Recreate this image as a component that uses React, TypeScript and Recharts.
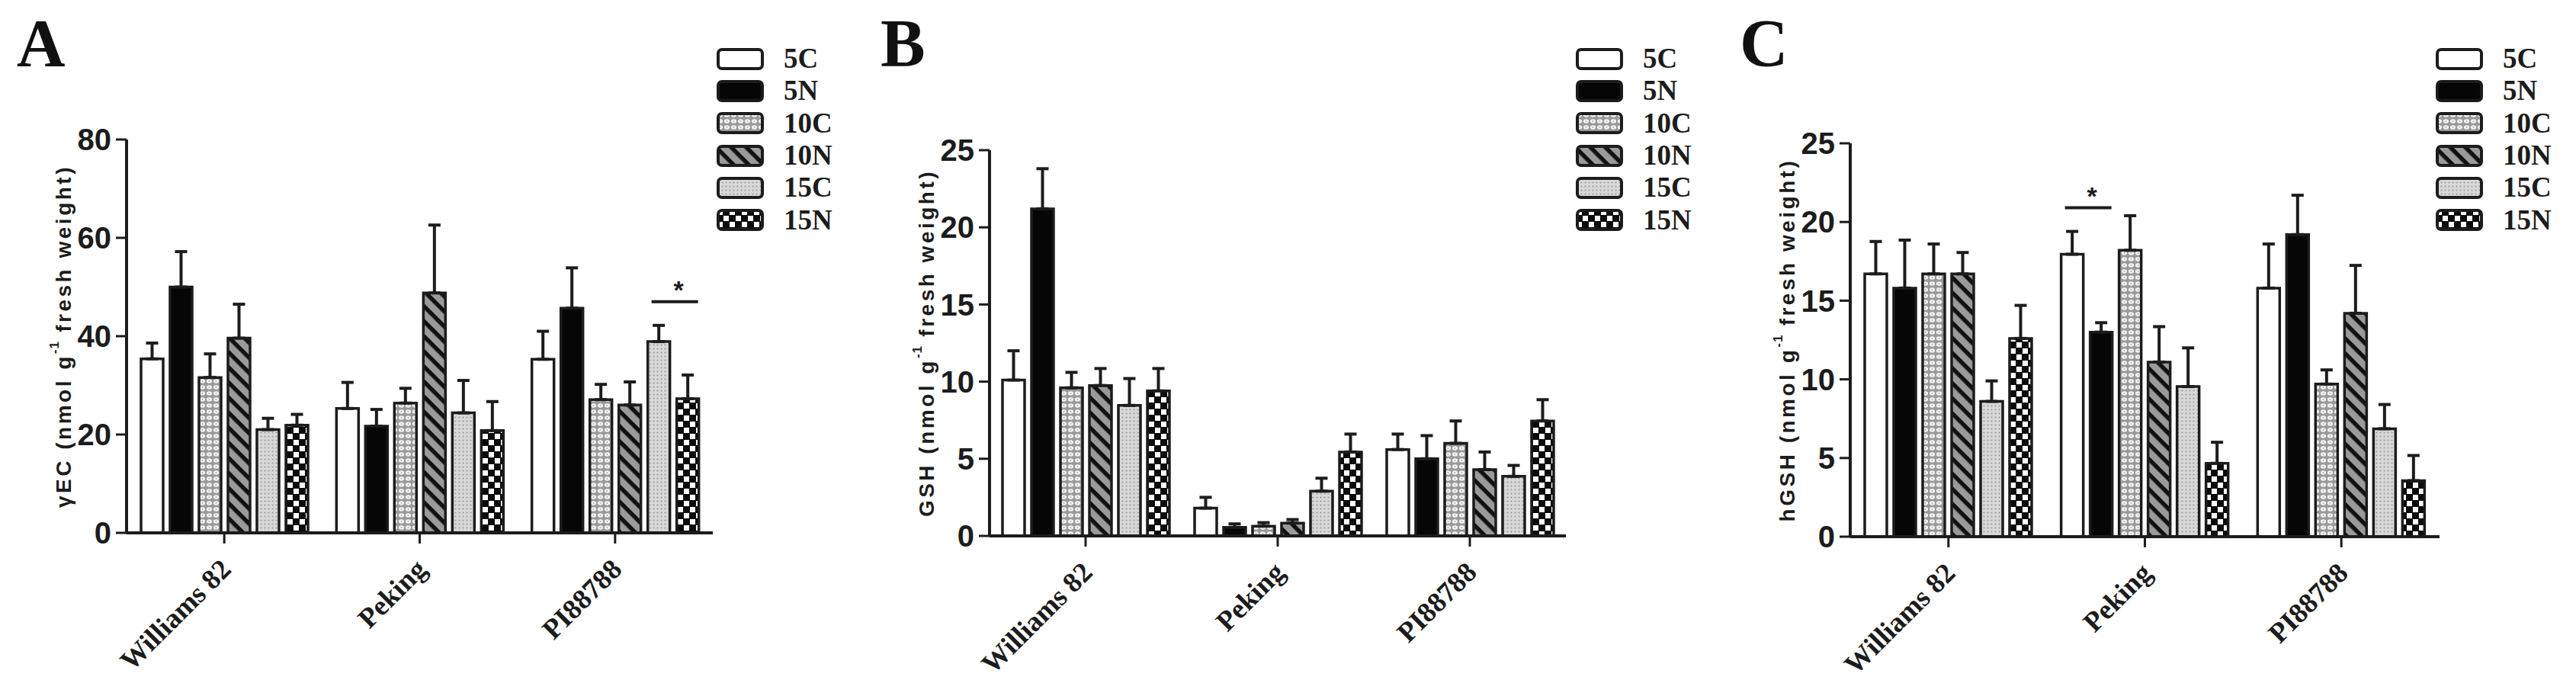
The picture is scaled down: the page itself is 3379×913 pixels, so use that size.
import React from 'react';
import { Bar, BarChart, ErrorBar, Legend, Rectangle, XAxis, YAxis } from 'recharts';

const cultivars = ['Williams 82', 'Peking', 'PI88788'];
const treatments = ['5C', '5N', '10C', '10N', '15C', '15N'];

// rows follow cultivars, columns follow treatments
const gecMeans = [
  [35.4, 50.0, 31.6, 39.6, 21.0, 21.9],
  [25.3, 21.7, 26.4, 48.8, 24.4, 20.8],
  [35.3, 45.7, 27.1, 26.0, 38.9, 27.3],
];
const gecSem = [
  [3.2, 7.2, 4.8, 6.9, 2.3, 2.2],
  [5.3, 3.4, 3.0, 13.8, 6.6, 5.9],
  [5.7, 8.2, 3.1, 4.7, 3.3, 4.8],
];
const gshMeans = [
  [10.1, 21.2, 9.6, 9.75, 8.46, 9.4],
  [1.8, 0.55, 0.63, 0.83, 2.9, 5.44],
  [5.6, 5.0, 6.0, 4.3, 3.86, 7.45],
];
const gshSem = [
  [1.9, 2.6, 1.0, 1.1, 1.74, 1.45],
  [0.7, 0.23, 0.23, 0.23, 0.84, 1.16],
  [1.0, 1.5, 1.45, 1.14, 0.71, 1.38],
];
const hgshMeans = [
  [16.7, 15.8, 16.7, 16.7, 8.6, 12.6],
  [17.95, 13.0, 18.2, 11.1, 9.54, 4.66],
  [15.8, 19.2, 9.7, 14.2, 6.86, 3.56],
];
const hgshSem = [
  [2.06, 3.05, 1.9, 1.36, 1.3, 2.1],
  [1.45, 0.6, 2.2, 2.25, 2.46, 1.34],
  [2.8, 2.5, 0.9, 3.04, 1.54, 1.6],
];

const gecTicks = [0, 20, 40, 60, 80];
const gshTicks = [0, 5, 10, 15, 20, 25];
const hgshTicks = [0, 5, 10, 15, 20, 25];

const gecSignif = { cultivar: 'PI88788', from: '15C', to: '15N', level: 47 };
const hgshSignif = { cultivar: 'Peking', from: '5C', to: '5N', level: 20.9 };

const fills = ['#ffffff', '#060606', 'url(#pat10C)', 'url(#pat10N)', 'url(#pat15C)', 'url(#pat15N)'];

const INK = '#1c1c1c';
const SANS = "'Liberation Sans', Arial, sans-serif";
const SERIF = "'Liberation Serif', 'Times New Roman', serif";
const BAR_SIZE = 29;
const BAR_GAP = 9;
const HEIGHT = 913;

type Signif = { cultivar: string; from: string; to: string; level: number };

function Patterns() {
  return (
    <svg width={0} height={0} style={{ position: 'absolute' }}>
      <defs>
        <pattern id="pat10C" width={9} height={8} patternUnits="userSpaceOnUse">
          <rect width={9} height={8} fill="#9a9a9a" />
          <ellipse cx={4.5} cy={4} rx={3.6} ry={2.8} fill="#f4f4f4" />
          <circle cx={4.5} cy={4} r={0.9} fill="#a8a8a8" />
        </pattern>
        <pattern id="pat10N" width={14} height={14} patternUnits="userSpaceOnUse" patternTransform="rotate(45)">
          <rect width={14} height={14} fill="#9a9a9a" />
          <rect width={14} height={5.5} fill="#111" />
        </pattern>
        <pattern id="pat15C" width={5} height={5} patternUnits="userSpaceOnUse">
          <rect width={5} height={5} fill="#d8d8d8" />
          <circle cx={2.5} cy={2.5} r={1.1} fill="#9c9c9c" />
        </pattern>
        <pattern id="pat15N" width={16} height={16} patternUnits="userSpaceOnUse">
          <rect width={16} height={16} fill="#0b0b0b" />
          <rect x={1} y={1} width={7} height={7} fill="#fff" />
          <rect x={9} y={9} width={7} height={7} fill="#fff" />
        </pattern>
      </defs>
    </svg>
  );
}

function CultivarTick({ x, y, payload }: any) {
  const px = x + 11;
  const py = y + 34;
  return (
    <text
      x={px}
      y={py}
      transform={`rotate(-45 ${px} ${py})`}
      textAnchor="end"
      fontFamily={SERIF}
      fontWeight="bold"
      fontSize={37}
      fill={INK}
    >
      {payload.value}
    </text>
  );
}

function PatternLegend({ payload }: any) {
  const items = [...(payload || [])].sort(
    (a: any, b: any) => treatments.indexOf(a.value) - treatments.indexOf(b.value),
  );
  return (
    <div>
      {items.map((entry: any) => (
        <div key={entry.value} style={{ display: 'flex', alignItems: 'center', height: 42.3 }}>
          <svg width={62} height={29} style={{ display: 'block' }}>
            <rect x={2} y={2} width={58} height={25} rx={5} fill={entry.color} stroke={INK} strokeWidth={4} />
          </svg>
          <span
            style={{
              marginLeft: 26,
              fontFamily: SERIF,
              fontWeight: 'bold',
              fontSize: 37,
              lineHeight: '42px',
              color: INK,
            }}
          >
            {entry.value}
          </span>
        </div>
      ))}
    </div>
  );
}

function makeShape(treatment: string, signif?: Signif) {
  return (props: any) => {
    const rect = <Rectangle {...props} />;
    if (!signif || signif.to !== treatment || props.payload?.name !== signif.cultivar) return rect;
    const { x, y, width, height, payload } = props;
    const unit = height / payload[treatment];
    const lineY = y + height - signif.level * unit;
    const span = treatments.indexOf(signif.to) - treatments.indexOf(signif.from);
    const x1 = x - span * (BAR_SIZE + BAR_GAP) + 5;
    const x2 = x + width - 1;
    return (
      <g>
        {rect}
        <line x1={x1} x2={x2} y1={lineY} y2={lineY} stroke={INK} strokeWidth={4} />
        <text
          x={(x1 + x2) / 2 + 5}
          y={lineY - 4}
          textAnchor="middle"
          fontFamily={SANS}
          fontWeight="bold"
          fontSize={34}
          fill={INK}
        >
          *
        </text>
      </g>
    );
  };
}

interface PanelProps {
  letter: string;
  letterX: number;
  left: number;
  width: number;
  axisX: number;
  plotTop: number;
  plotBottom: number;
  plotRight: number;
  legendX: number;
  means: number[][];
  sem: number[][];
  ticks: number[];
  yName: string;
  signif?: Signif;
}

function Panel({ letter, letterX, left, width, axisX, plotTop, plotBottom, plotRight, legendX, means, sem, ticks, yName, signif }: PanelProps) {
  const data = cultivars.map((name, i) => {
    const row: Record<string, any> = { name };
    treatments.forEach((t, j) => {
      row[t] = means[i][j];
      row[`${t}err`] = [0, sem[i][j]];
    });
    return row;
  });

  const cx = axisX - 83;
  const cy = (plotTop + plotBottom) / 2;

  return (
    <div style={{ position: 'absolute', left, top: 0, width, height: HEIGHT }}>
      <BarChart
        width={width}
        height={HEIGHT}
        data={data}
        margin={{ top: plotTop, right: width - plotRight, bottom: 0, left: 0 }}
        barSize={BAR_SIZE}
        barGap={BAR_GAP}
      >
        <XAxis
          dataKey="name"
          height={HEIGHT - plotBottom}
          interval={0}
          tickSize={14}
          tickMargin={2}
          axisLine={{ stroke: INK, strokeWidth: 4 }}
          tickLine={{ stroke: INK, strokeWidth: 3 }}
          tick={<CultivarTick />}
        />
        <YAxis
          width={axisX}
          domain={[0, ticks[ticks.length - 1]]}
          ticks={ticks}
          interval={0}
          tickSize={14}
          tickMargin={6}
          axisLine={{ stroke: INK, strokeWidth: 4 }}
          tickLine={{ stroke: INK, strokeWidth: 3 }}
          tick={{ fontFamily: SANS, fontWeight: 700, fontSize: 40, fill: INK }}
          label={() => (
            <text
              x={cx}
              y={cy}
              transform={`rotate(-90 ${cx} ${cy})`}
              textAnchor="middle"
              dominantBaseline="central"
              fontFamily={SANS}
              fontWeight="bold"
              fontSize={28}
              letterSpacing={3.5}
              fill={INK}
            >
              {yName} (nmol g
              <tspan dy={-12} fontSize={17} letterSpacing={1}>
                -1
              </tspan>
              <tspan dy={12}> fresh weight)</tspan>
            </text>
          )}
        />
        <Legend
          layout="vertical"
          align="center"
          verticalAlign="middle"
          wrapperStyle={{ left: legendX, top: 56, width: 190 }}
          content={<PatternLegend />}
        />
        {treatments.map((t, j) => (
          <Bar
            key={t}
            dataKey={t}
            name={t}
            fill={fills[j]}
            stroke={INK}
            strokeWidth={3.5}
            isAnimationActive={false}
            shape={makeShape(t, signif)}
          >
            <ErrorBar dataKey={`${t}err`} direction="y" width={8} stroke={INK} strokeWidth={4} isAnimationActive={false} />
          </Bar>
        ))}
      </BarChart>
      <div
        style={{
          position: 'absolute',
          left: letterX,
          top: 12.6,
          fontFamily: SERIF,
          fontWeight: 'bold',
          fontSize: 88,
          lineHeight: '88px',
          color: '#111',
        }}
      >
        {letter}
      </div>
    </div>
  );
}

export default function App() {
  return (
    <div style={{ position: 'absolute', left: 0, top: 0, width: 3379, height: HEIGHT, background: '#fff', overflow: 'hidden' }}>
      <Patterns />
      <Panel
        letter="A"
        letterX={22}
        left={0}
        width={1130}
        axisX={166}
        plotTop={183}
        plotBottom={699}
        plotRight={935}
        legendX={940}
        means={gecMeans}
        sem={gecSem}
        ticks={gecTicks}
        yName="γEC"
        signif={gecSignif}
      />
      <Panel
        letter="B"
        letterX={25}
        left={1130}
        width={1130}
        axisX={168}
        plotTop={197}
        plotBottom={703}
        plotRight={924}
        legendX={937}
        means={gshMeans}
        sem={gshSem}
        ticks={gshTicks}
        yName="GSH"
      />
      <Panel
        letter="C"
        letterX={22}
        left={2260}
        width={1119}
        axisX={167}
        plotTop={188}
        plotBottom={704}
        plotRight={940}
        legendX={935}
        means={hgshMeans}
        sem={hgshSem}
        ticks={hgshTicks}
        yName="hGSH"
        signif={hgshSignif}
      />
    </div>
  );
}
